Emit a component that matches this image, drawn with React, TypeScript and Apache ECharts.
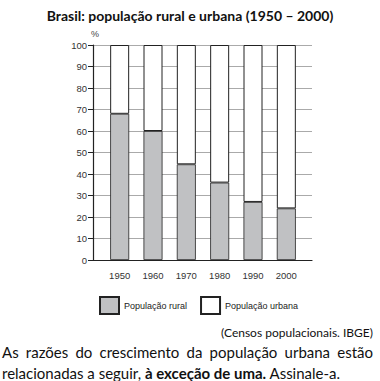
import React, { useEffect, useRef } from "react";
import * as echarts from "echarts";

const years = ["1950", "1960", "1970", "1980", "1990", "2000"];
const rural = [68, 60, 44.5, 36, 27, 24];
const urbana = [32, 40, 55.5, 64, 73, 76];
const yTicks = { min: 0, max: 100, interval: 10 };
const titleText = "Brasil: população rural e urbana (1950 – 2000)";
const sourceText = "(Censos populacionais. IBGE)";
const line1Words = ["As", "razões", "do", "crescimento", "da", "população", "urbana", "estão"];

export default function App() {
  const ref = useRef<HTMLDivElement>(null);
  useEffect(() => {
    document.body.style.margin = "0";
    const chart = echarts.init(ref.current!, null, { renderer: "svg" });
    const bodyFont = "Lato";
    const bodySize = 15;
    const bodyCss = `${bodySize}px ${bodyFont}`;
    // justify line 1 between x=2 and x=373
    const cv = document.createElement("canvas").getContext("2d")!;
    cv.font = bodyCss;
    const widths = line1Words.map((w) => cv.measureText(w).width);
    const total = widths.reduce((a, b) => a + b, 0);
    const x0 = 2;
    const x1 = 373;
    const gap = (x1 - x0 - total) / (line1Words.length - 1);
    const xs: number[] = [];
    let cx = x0;
    widths.forEach((w) => {
      xs.push(cx);
      cx += w + gap;
    });
    chart.setOption({
      animation: false,
      backgroundColor: "#ffffff",
      title: {
        text: titleText,
        left: "center",
        top: 3,
        textStyle: { fontFamily: bodyFont, fontWeight: "bold", fontSize: 14, color: "#111" },
      },
      legend: {
        left: 99,
        top: 296,
        padding: 0,
        itemWidth: 19,
        itemHeight: 17,
        itemGap: 13,
        icon: "rect",
        textStyle: { fontFamily: "Liberation Sans", fontSize: 9, color: "#222" },
        data: ["População rural", "População urbana"],
      },
      grid: [
        { left: 93, top: 45, width: 219, height: 215 },
        { left: 103, top: 45, width: 200, height: 215 },
      ],
      xAxis: [
        {
          gridIndex: 0,
          type: "value",
          min: 0,
          max: 1,
          axisLine: { show: true, onZero: false, lineStyle: { color: "#222", width: 1.2 } },
          axisTick: { show: false },
          axisLabel: { show: false },
          splitLine: { show: false },
        },
        {
          gridIndex: 1,
          type: "category",
          data: years,
          axisLine: { show: false },
          axisTick: { show: false },
          axisLabel: { fontFamily: "Liberation Sans", fontSize: 9.5, color: "#333", margin: 10 },
        },
      ],
      yAxis: [
        {
          gridIndex: 0,
          type: "value",
          min: yTicks.min,
          max: yTicks.max,
          interval: yTicks.interval,
          axisLine: { show: true, lineStyle: { color: "#222", width: 1.2 } },
          axisTick: { show: true, length: 5, lineStyle: { color: "#222" } },
          axisLabel: { fontFamily: "Liberation Sans", fontSize: 9.5, color: "#333", margin: 6 },
          splitLine: { show: true, lineStyle: { color: "#aaaaaa", width: 1 } },
        },
        {
          gridIndex: 1,
          type: "value",
          min: yTicks.min,
          max: yTicks.max,
          show: false,
          splitLine: { show: false },
        },
      ],
      series: [
        {
          name: "População rural",
          type: "bar",
          xAxisIndex: 1,
          yAxisIndex: 1,
          stack: "p",
          barWidth: 19,
          data: rural,
          itemStyle: { color: "#c0c1c3", borderColor: "#222", borderWidth: 0.8 },
        },
        {
          name: "População urbana",
          type: "bar",
          xAxisIndex: 1,
          yAxisIndex: 1,
          stack: "p",
          barWidth: 19,
          data: urbana,
          itemStyle: { color: "#ffffff", borderColor: "#222", borderWidth: 1 },
        },
      ],
      graphic: [
        {
          type: "text",
          left: 91,
          top: 29,
          style: { text: "%", font: "9px Liberation Sans", fill: "#444" },
        },
        {
          type: "text",
          right: 7,
          top: 326,
          style: { text: sourceText, font: `12px ${bodyFont}`, fill: "#111" },
        },
        ...line1Words.map((w, i) => ({
          type: "text",
          left: xs[i],
          top: 344,
          style: { text: w, font: bodyCss, fill: "#111" },
        })),
        {
          type: "text",
          left: 2,
          top: 365,
          style: {
            text: "{r|relacionadas a seguir, }{b|à exceção de uma.}{r| Assinale-a.}",
            rich: {
              r: { fontFamily: bodyFont, fontSize: bodySize, fill: "#111", color: "#111" },
              b: { fontFamily: bodyFont, fontSize: bodySize, fontWeight: "bold", fill: "#111", color: "#111" },
            },
          },
        },
      ],
    });
    return () => chart.dispose();
  }, []);
  return <div ref={ref} style={{ width: 380, height: 381 }} />;
}
